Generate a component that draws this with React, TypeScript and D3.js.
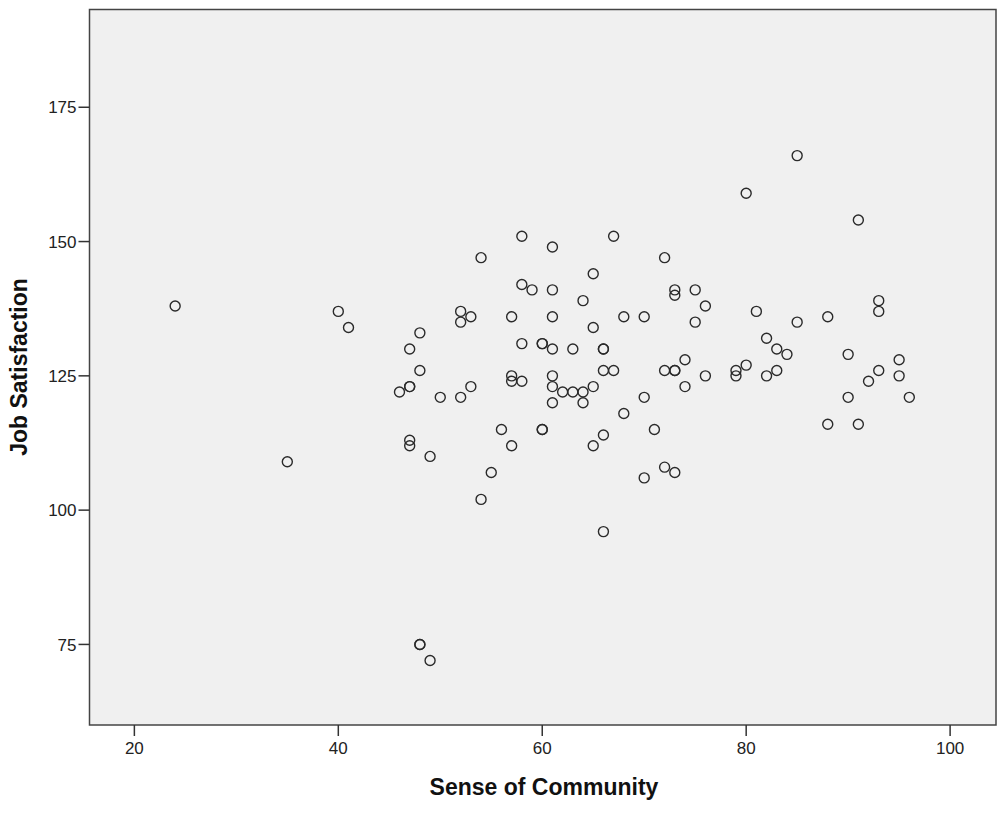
import React from 'react';
import * as d3 from 'd3';

// Sense of Community (x) vs Job Satisfaction (y)
const community = [
  24, 35, 40, 41, 46, 47, 47, 47, 47, 47, 48, 48, 48, 48, 49, 49, 50, 52, 52, 52,
  53, 53, 54, 54, 55, 56, 57, 57, 57, 57, 58, 58, 58, 58, 59, 60, 60, 60, 60, 61,
  61, 61, 61, 61, 61, 61, 62, 63, 63, 64, 64, 64, 65, 65, 65, 65, 66, 66, 66, 66,
  66, 67, 67, 68, 68, 70, 70, 70, 71, 72, 72, 72, 73, 73, 73, 73, 73, 74, 74, 75,
  75, 76, 76, 79, 79, 80, 80, 81, 82, 82, 83, 83, 84, 85, 85, 88, 88, 90, 90, 91,
  91, 92, 93, 93, 93, 95, 95, 96,
];
const satisfaction = [
  138, 109, 137, 134, 122, 130, 123, 123, 113, 112, 133, 126, 75, 75, 110, 72, 121, 137, 135, 121,
  136, 123, 147, 102, 107, 115, 136, 125, 124, 112, 151, 142, 131, 124, 141, 131, 131, 115, 115, 149,
  141, 136, 130, 125, 123, 120, 122, 130, 122, 139, 122, 120, 144, 134, 123, 112, 130, 130, 126, 114,
  96, 151, 126, 136, 118, 136, 121, 106, 115, 147, 126, 108, 141, 140, 126, 126, 107, 128, 123, 141,
  135, 138, 125, 126, 125, 159, 127, 137, 132, 125, 130, 126, 129, 166, 135, 136, 116, 129, 121, 154,
  116, 124, 139, 137, 126, 128, 125, 121,
];
const xTicks = [20, 40, 60, 80, 100];
const yTicks = [75, 100, 125, 150, 175];

const W = 1003;
const H = 813;
const left = 89.5, right = 996, top = 9.5, bottom = 725;

export default function App() {
  const x = d3.scaleLinear().domain([15.6, 104.5]).range([left, right]);
  const y = d3.scaleLinear().domain([60, 193.2]).range([bottom, top]);
  const points = community.map((c, i) => ({ c, s: satisfaction[i] }));
  const font = '"Liberation Sans", Arial, sans-serif';

  return (
    <svg width={W} height={H} style={{ position: 'absolute', left: 0, top: 0, background: '#fff' }}>
      <rect x={left} y={top} width={right - left} height={bottom - top}
        fill="#f0f0f0" stroke="#444" strokeWidth={1.5} />

      {/* x axis ticks */}
      {xTicks.map(t => (
        <g key={'x' + t} transform={`translate(${x(t)},${bottom})`}>
          <line y1={0} y2={11} stroke="#333" strokeWidth={1.5} />
          <text y={29} textAnchor="middle" fontFamily={font} fontSize={17} fill="#222">{t}</text>
        </g>
      ))}

      {/* y axis ticks */}
      {yTicks.map(t => (
        <g key={'y' + t} transform={`translate(${left},${y(t)})`}>
          <line x1={0} x2={-11} stroke="#333" strokeWidth={1.5} />
          <text x={-13} dy="0.36em" textAnchor="end" fontFamily={font} fontSize={17} fill="#222">{t}</text>
        </g>
      ))}

      {points.map((p, i) => (
        <circle key={i} cx={x(p.c)} cy={y(p.s)} r={5}
          fill="none" stroke="#2a2a2a" strokeWidth={1.4} />
      ))}

      <text x={544} y={795} textAnchor="middle" fontFamily={font}
        fontWeight="bold" fontSize={23} fill="#111">Sense of Community</text>
      <text transform={`translate(27,367) rotate(-90)`} textAnchor="middle"
        fontFamily={font} fontWeight="bold" fontSize={23} fill="#111">Job Satisfaction</text>
    </svg>
  );
}
